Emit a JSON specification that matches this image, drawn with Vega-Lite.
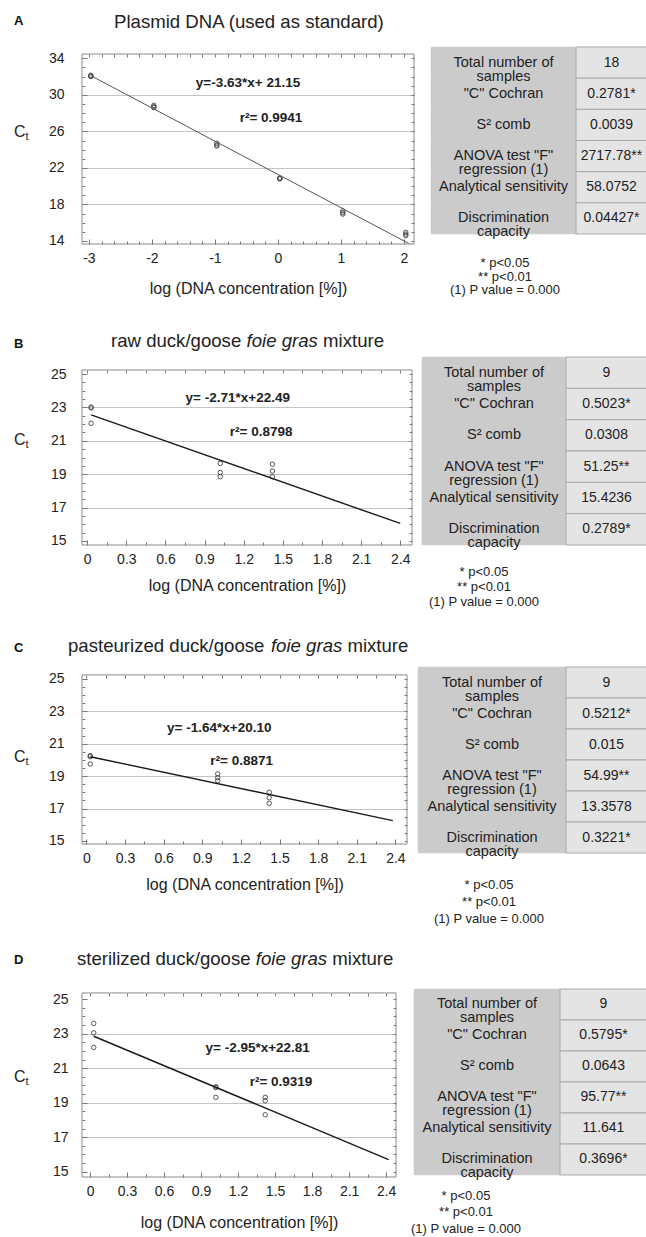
{
  "$schema": "https://vega.github.io/schema/vega-lite/v6.json",
  "background": "white",
  "padding": {"left": 13, "top": 13, "right": 0, "bottom": 8},
  "columns": 2,
  "bounds": "flush",
  "align": "each",
  "spacing": {"row": 0, "column": 0},
  "datasets": {
    "ptsA": [
      {"x": -2.97, "ct": 32.15}, {"x": -2.97, "ct": 32.05}, {"x": -2.97, "ct": 32.0},
      {"x": -1.97, "ct": 28.85}, {"x": -1.97, "ct": 28.7}, {"x": -1.97, "ct": 28.6},
      {"x": -0.97, "ct": 24.7}, {"x": -0.97, "ct": 24.5}, {"x": -0.97, "ct": 24.4},
      {"x": 0.03, "ct": 20.9}, {"x": 0.03, "ct": 20.85}, {"x": 0.03, "ct": 20.8},
      {"x": 1.03, "ct": 17.3}, {"x": 1.03, "ct": 17.1}, {"x": 1.03, "ct": 16.95},
      {"x": 2.03, "ct": 14.95}, {"x": 2.03, "ct": 14.75}, {"x": 2.03, "ct": 14.6}
    ],
    "lineA": [{"x": -2.97, "ct": 32.1}, {"x": 2.08, "ct": 13.72}],
    "ptsB": [
      {"x": 0.03, "ct": 23.02}, {"x": 0.03, "ct": 22.97}, {"x": 0.03, "ct": 22.05},
      {"x": 1.02, "ct": 19.65}, {"x": 1.02, "ct": 19.11}, {"x": 1.02, "ct": 18.85},
      {"x": 1.42, "ct": 19.6}, {"x": 1.42, "ct": 19.19}, {"x": 1.42, "ct": 18.85}
    ],
    "lineB": [{"x": 0.03, "ct": 22.55}, {"x": 2.4, "ct": 16.05}],
    "ptsC": [
      {"x": 0.03, "ct": 20.27}, {"x": 0.03, "ct": 20.2}, {"x": 0.03, "ct": 19.75},
      {"x": 1.02, "ct": 19.14}, {"x": 1.02, "ct": 18.9}, {"x": 1.02, "ct": 18.72},
      {"x": 1.42, "ct": 18.0}, {"x": 1.42, "ct": 17.67}, {"x": 1.42, "ct": 17.33}
    ],
    "lineC": [{"x": 0.03, "ct": 20.2}, {"x": 2.38, "ct": 16.25}],
    "ptsD": [
      {"x": 0.03, "ct": 23.59}, {"x": 0.03, "ct": 23.05}, {"x": 0.03, "ct": 22.2},
      {"x": 1.02, "ct": 19.92}, {"x": 1.02, "ct": 19.88}, {"x": 1.02, "ct": 19.31},
      {"x": 1.42, "ct": 19.31}, {"x": 1.42, "ct": 19.11}, {"x": 1.42, "ct": 18.3}
    ],
    "lineD": [{"x": 0.03, "ct": 22.85}, {"x": 2.42, "ct": 15.7}],
    "tabA": [
      {"i": 1, "label": "Total number of\nsamples", "value": "18"},
      {"i": 2, "label": "\"C\" Cochran", "value": "0.2781*"},
      {"i": 3, "label": "S² comb", "value": "0.0039"},
      {"i": 4, "label": "ANOVA test \"F\"\nregression (1)", "value": "2717.78**"},
      {"i": 5, "label": "Analytical sensitivity", "value": "58.0752"},
      {"i": 6, "label": "Discrimination\ncapacity", "value": "0.04427*"}
    ],
    "tabB": [
      {"i": 1, "label": "Total number of\nsamples", "value": "9"},
      {"i": 2, "label": "\"C\" Cochran", "value": "0.5023*"},
      {"i": 3, "label": "S² comb", "value": "0.0308"},
      {"i": 4, "label": "ANOVA test \"F\"\nregression (1)", "value": "51.25**"},
      {"i": 5, "label": "Analytical sensitivity", "value": "15.4236"},
      {"i": 6, "label": "Discrimination\ncapacity", "value": "0.2789*"}
    ],
    "tabC": [
      {"i": 1, "label": "Total number of\nsamples", "value": "9"},
      {"i": 2, "label": "\"C\" Cochran", "value": "0.5212*"},
      {"i": 3, "label": "S² comb", "value": "0.015"},
      {"i": 4, "label": "ANOVA test \"F\"\nregression (1)", "value": "54.99**"},
      {"i": 5, "label": "Analytical sensitivity", "value": "13.3578"},
      {"i": 6, "label": "Discrimination\ncapacity", "value": "0.3221*"}
    ],
    "tabD": [
      {"i": 1, "label": "Total number of\nsamples", "value": "9"},
      {"i": 2, "label": "\"C\" Cochran", "value": "0.5795*"},
      {"i": 3, "label": "S² comb", "value": "0.0643"},
      {"i": 4, "label": "ANOVA test \"F\"\nregression (1)", "value": "95.77**"},
      {"i": 5, "label": "Analytical sensitivity", "value": "11.641"},
      {"i": 6, "label": "Discrimination\ncapacity", "value": "0.3696*"}
    ],
    "one": [{}]
  },
  "concat": [
    {
      "width": 332, "height": 197,
      "layer": [
        {
          "data": {"name": "ptsA"},
          "mark": {"type": "point", "shape": "circle", "filled": false, "color": "#444", "strokeWidth": 0.9, "size": 20, "opacity": 1},
          "encoding": {
            "x": {"field": "x", "type": "quantitative", "scale": {"domain": [-3.11, 2.16], "nice": false, "zero": false},
                  "axis": {"values": [-3, -2, -1, 0, 1, 2], "labelExpr": "toString(datum.value)", "title": "log (DNA concentration [%])", "grid": false, "tickSize": -5, "labelPadding": 12, "titlePadding": 15, "labelFlush": false}},
            "y": {"field": "ct", "type": "quantitative", "scale": {"domain": [13.67, 35.24], "nice": false, "zero": false},
                  "axis": {"values": [14, 18, 22, 26, 30, 34], "title": null, "grid": true, "gridOpacity": {"condition": {"test": "datum.value == 14 || datum.value == 34", "value": 0}, "value": 1}, "tickSize": -5, "labelPadding": 23}}
          }
        },
        {
          "data": {"name": "lineA"},
          "mark": {"type": "line", "color": "#555", "strokeWidth": 1},
          "encoding": {
            "x": {"field": "x", "type": "quantitative", "axis": {"orient": "top", "offset": -7, "values": [-3, -2.8, -2.6, -2.4, -2.2, -2, -1.8, -1.6, -1.4, -1.2, -1, -0.8, -0.6, -0.4, -0.2, 0, 0.2, 0.4, 0.6, 0.8, 1, 1.2, 1.4, 1.6, 1.8, 2], "labels": false, "title": null, "grid": false, "tickSize": -3}},
            "y": {"field": "ct", "type": "quantitative", "axis": {"orient": "right", "values": [14, 15, 16, 17, 18, 19, 20, 21, 22, 23, 24, 25, 26, 27, 28, 29, 30, 31, 32, 33, 34], "labels": false, "title": null, "grid": false, "tickSize": -3}}
          }
        },
        {
          "data": {"name": "one"},
          "mark": {"type": "rect", "fill": "transparent", "stroke": "#8a8a8a", "strokeWidth": 1},
          "encoding": {
            "x": {"datum": -3.11, "axis": {"orient": "bottom", "values": [-3, -2.8, -2.6, -2.4, -2.2, -2, -1.8, -1.6, -1.4, -1.2, -1, -0.8, -0.6, -0.4, -0.2, 0, 0.2, 0.4, 0.6, 0.8, 1, 1.2, 1.4, 1.6, 1.8, 2], "labels": false, "title": null, "grid": false, "tickSize": -3}},
            "x2": {"datum": 2.16},
            "y": {"datum": 13.67, "axis": {"orient": "left", "values": [14, 15, 16, 17, 18, 19, 20, 21, 22, 23, 24, 25, 26, 27, 28, 29, 30, 31, 32, 33, 34], "labels": false, "title": null, "grid": false, "tickSize": -3}},
            "y2": {"datum": 34.47}
          }
        },
        {"data": {"name": "one"}, "mark": {"type": "text", "text": "A", "align": "left", "baseline": "alphabetic", "fontSize": 13, "fontWeight": "bold", "color": "#111"},
         "encoding": {"x": {"datum": -4.19, "axis": null}, "y": {"datum": 37.65, "axis": null}}},
        {"data": {"name": "one"}, "mark": {"type": "text", "text": "Plasmid DNA (used as standard)", "align": "left", "baseline": "alphabetic", "fontSize": 18.6},
         "encoding": {"x": {"datum": -2.602, "axis": null}, "y": {"datum": 37.32, "axis": null}}},
        {"data": {"name": "one"}, "mark": {"type": "text", "text": "C", "align": "left", "baseline": "middle", "fontSize": 16},
         "encoding": {"x": {"datum": -4.19, "axis": null}, "y": {"datum": 25.97, "axis": null}}},
        {"data": {"name": "one"}, "mark": {"type": "text", "text": "t", "align": "left", "baseline": "middle", "fontSize": 11, "dx": 11.6, "dy": 5},
         "encoding": {"x": {"datum": -4.19, "axis": null}, "y": {"datum": 25.97, "axis": null}}},
        {"data": {"name": "one"}, "mark": {"type": "text", "text": "y=-3.63*x+ 21.15", "align": "center", "baseline": "middle", "fontSize": 13.5, "fontWeight": "bold"},
         "encoding": {"x": {"datum": -0.475, "axis": null}, "y": {"datum": 31.3, "axis": null}}},
        {"data": {"name": "one"}, "mark": {"type": "text", "text": "r²= 0.9941", "align": "center", "baseline": "middle", "fontSize": 13.5, "fontWeight": "bold"},
         "encoding": {"x": {"datum": -0.11, "axis": null}, "y": {"datum": 27.47, "axis": null}}}
      ]
    },
    {
      "width": 233, "height": 310,
      "data": {"name": "tabA"},
      "title": {"text": ["* p<0.05", "** p<0.01", "(1) P value = 0.000"], "orient": "bottom", "frame": "group", "anchor": "start", "align": "center", "baseline": "top", "dx": 91, "offset": -99.8, "fontSize": 13, "fontWeight": "normal", "lineHeight": 13.5, "color": "#222"},
      "layer": [
        {"mark": {"type": "rect", "fill": "#cbcbcb", "stroke": "#cbcbcb", "strokeWidth": 0.5},
         "encoding": {"x": {"datum": 17, "scale": {"domain": [0, 233], "nice": false, "zero": false}, "axis": null}, "x2": {"datum": 162},
                      "y": {"field": "i", "type": "ordinal", "axis": null, "scale": {"domain": [1, 2, 3, 4, 5, 6, 7, 8, 9], "paddingInner": 0, "paddingOuter": 0.4733, "align": 0}}}},
        {"mark": {"type": "rect", "fill": "#e4e4e4", "stroke": "#a9a9a9", "strokeWidth": 1},
         "encoding": {"x": {"datum": 162, "axis": null}, "x2": {"datum": 233}, "y": {"field": "i", "type": "ordinal", "axis": null}}},
        {"mark": {"type": "text", "fontSize": 14.5, "lineBreak": "\n", "lineHeight": 14, "baseline": "middle"},
         "encoding": {"x": {"datum": 89.5, "axis": null}, "y": {"field": "i", "type": "ordinal", "axis": null}, "text": {"field": "label"}}},
        {"mark": {"type": "text", "fontSize": 14, "baseline": "middle"},
         "encoding": {"x": {"datum": 197.5, "axis": null}, "y": {"field": "i", "type": "ordinal", "axis": null}, "text": {"field": "value"}}}
      ]
    },
    {
      "width": 330, "height": 188,
      "layer": [
        {
          "data": {"name": "ptsB"},
          "mark": {"type": "point", "shape": "circle", "filled": false, "color": "#444", "strokeWidth": 0.9, "size": 20, "opacity": 1},
          "encoding": {
            "x": {"field": "x", "type": "quantitative", "scale": {"domain": [-0.04, 2.49], "nice": false, "zero": false},
                  "axis": {"values": [0, 0.3, 0.6, 0.9, 1.2, 1.5, 1.8, 2.1, 2.4], "labelExpr": "toString(datum.value)", "title": "log (DNA concentration [%])", "grid": false, "tickSize": -5, "labelPadding": 12, "titlePadding": 11, "labelFlush": false}},
            "y": {"field": "ct", "type": "quantitative", "scale": {"domain": [14.76, 26.02], "nice": false, "zero": false},
                  "axis": {"values": [15, 17, 19, 21, 23, 25], "title": null, "grid": true, "gridOpacity": {"condition": {"test": "datum.value == 15 || datum.value == 25", "value": 0}, "value": 1}, "tickSize": -5, "labelPadding": 21}}
          }
        },
        {
          "data": {"name": "lineB"},
          "mark": {"type": "line", "color": "#1a1a1a", "strokeWidth": 1.4},
          "encoding": {
            "x": {"field": "x", "type": "quantitative", "axis": {"orient": "top", "offset": -13, "values": [0, 0.15, 0.3, 0.45, 0.6, 0.75, 0.9, 1.05, 1.2, 1.35, 1.5, 1.65, 1.8, 1.95, 2.1, 2.25, 2.4], "labels": false, "title": null, "grid": false, "tickSize": -3}},
            "y": {"field": "ct", "type": "quantitative", "axis": {"orient": "right", "values": [15, 15.5, 16, 16.5, 17, 17.5, 18, 18.5, 19, 19.5, 20, 20.5, 21, 21.5, 22, 22.5, 23, 23.5, 24, 24.5, 25], "labels": false, "title": null, "grid": false, "tickSize": -3}}
          }
        },
        {
          "data": {"name": "one"},
          "mark": {"type": "rect", "fill": "transparent", "stroke": "#8a8a8a", "strokeWidth": 1},
          "encoding": {
            "x": {"datum": -0.04, "axis": {"orient": "bottom", "values": [0, 0.15, 0.3, 0.45, 0.6, 0.75, 0.9, 1.05, 1.2, 1.35, 1.5, 1.65, 1.8, 1.95, 2.1, 2.25, 2.4], "labels": false, "title": null, "grid": false, "tickSize": -3}},
            "x2": {"datum": 2.49},
            "y": {"datum": 14.76, "axis": {"orient": "left", "values": [15, 15.5, 16, 16.5, 17, 17.5, 18, 18.5, 19, 19.5, 20, 20.5, 21, 21.5, 22, 22.5, 23, 23.5, 24, 24.5, 25], "labels": false, "title": null, "grid": false, "tickSize": -3}},
            "y2": {"datum": 25.24}
          }
        },
        {"data": {"name": "one"}, "mark": {"type": "text", "text": "B", "align": "left", "baseline": "alphabetic", "fontSize": 13, "fontWeight": "bold", "color": "#111"},
         "encoding": {"x": {"datum": -0.5615, "axis": null}, "y": {"datum": 26.56, "axis": null}}},
        {"data": {"name": "one"}, "mark": {"type": "text", "text": "raw duck/goose", "align": "left", "baseline": "alphabetic", "fontSize": 18.6},
         "encoding": {"x": {"datum": 0.1824, "axis": null}, "y": {"datum": 26.62, "axis": null}}},
        {"data": {"name": "one"}, "mark": {"type": "text", "text": "foie gras", "align": "left", "baseline": "alphabetic", "fontSize": 18.6, "fontStyle": "italic"},
         "encoding": {"x": {"datum": 1.2215, "axis": null}, "y": {"datum": 26.62, "axis": null}}},
        {"data": {"name": "one"}, "mark": {"type": "text", "text": "mixture", "align": "left", "baseline": "alphabetic", "fontSize": 18.6},
         "encoding": {"x": {"datum": 1.808, "axis": null}, "y": {"datum": 26.62, "axis": null}}},
        {"data": {"name": "one"}, "mark": {"type": "text", "text": "C", "align": "left", "baseline": "middle", "fontSize": 16},
         "encoding": {"x": {"datum": -0.5615, "axis": null}, "y": {"datum": 21.05, "axis": null}}},
        {"data": {"name": "one"}, "mark": {"type": "text", "text": "t", "align": "left", "baseline": "middle", "fontSize": 11, "dx": 11.6, "dy": 5},
         "encoding": {"x": {"datum": -0.5615, "axis": null}, "y": {"datum": 21.05, "axis": null}}},
        {"data": {"name": "one"}, "mark": {"type": "text", "text": "y= -2.71*x+22.49", "align": "center", "baseline": "middle", "fontSize": 13.5, "fontWeight": "bold"},
         "encoding": {"x": {"datum": 1.154, "axis": null}, "y": {"datum": 23.55, "axis": null}}},
        {"data": {"name": "one"}, "mark": {"type": "text", "text": "r²= 0.8798", "align": "center", "baseline": "middle", "fontSize": 13.5, "fontWeight": "bold"},
         "encoding": {"x": {"datum": 1.333, "axis": null}, "y": {"datum": 21.51, "axis": null}}}
      ]
    },
    {
      "width": 233, "height": 310,
      "data": {"name": "tabB"},
      "title": {"text": ["* p<0.05", "** p<0.01", "(1) P value = 0.000"], "orient": "bottom", "frame": "group", "anchor": "start", "align": "center", "baseline": "top", "dx": 70, "offset": -100.8, "fontSize": 13, "fontWeight": "normal", "lineHeight": 15, "color": "#222"},
      "layer": [
        {"mark": {"type": "rect", "fill": "#cbcbcb", "stroke": "#cbcbcb", "strokeWidth": 0.5},
         "encoding": {"x": {"datum": 8, "scale": {"domain": [0, 233], "nice": false, "zero": false}, "axis": null}, "x2": {"datum": 152},
                      "y": {"field": "i", "type": "ordinal", "axis": null, "scale": {"domain": [1, 2, 3, 4, 5, 6, 7, 8, 9], "paddingInner": 0, "paddingOuter": 0.4468, "align": 0}}}},
        {"mark": {"type": "rect", "fill": "#e4e4e4", "stroke": "#a9a9a9", "strokeWidth": 1},
         "encoding": {"x": {"datum": 152, "axis": null}, "x2": {"datum": 233}, "y": {"field": "i", "type": "ordinal", "axis": null}}},
        {"mark": {"type": "text", "fontSize": 14.5, "lineBreak": "\n", "lineHeight": 14, "baseline": "middle"},
         "encoding": {"x": {"datum": 80, "axis": null}, "y": {"field": "i", "type": "ordinal", "axis": null}, "text": {"field": "label"}}},
        {"mark": {"type": "text", "fontSize": 14, "baseline": "middle"},
         "encoding": {"x": {"datum": 192.5, "axis": null}, "y": {"field": "i", "type": "ordinal", "axis": null}, "text": {"field": "value"}}}
      ]
    },
    {
      "width": 325, "height": 177,
      "layer": [
        {
          "data": {"name": "ptsC"},
          "mark": {"type": "point", "shape": "circle", "filled": false, "color": "#444", "strokeWidth": 0.9, "size": 20, "opacity": 1},
          "encoding": {
            "x": {"field": "x", "type": "quantitative", "scale": {"domain": [-0.034, 2.49], "nice": false, "zero": false},
                  "axis": {"values": [0, 0.3, 0.6, 0.9, 1.2, 1.5, 1.8, 2.1, 2.4], "labelExpr": "toString(datum.value)", "title": "log (DNA concentration [%])", "grid": false, "tickSize": -5, "labelPadding": 12, "titlePadding": 11, "labelFlush": false}},
            "y": {"field": "ct", "type": "quantitative", "scale": {"domain": [14.81, 25.74], "nice": false, "zero": false},
                  "axis": {"values": [15, 17, 19, 21, 23, 25], "title": null, "grid": true, "gridOpacity": {"condition": {"test": "datum.value == 15 || datum.value == 25", "value": 0}, "value": 1}, "tickSize": -5, "labelPadding": 23}}
          }
        },
        {
          "data": {"name": "lineC"},
          "mark": {"type": "line", "color": "#1a1a1a", "strokeWidth": 1.4},
          "encoding": {
            "x": {"field": "x", "type": "quantitative", "axis": {"orient": "top", "offset": -8, "values": [0, 0.15, 0.3, 0.45, 0.6, 0.75, 0.9, 1.05, 1.2, 1.35, 1.5, 1.65, 1.8, 1.95, 2.1, 2.25, 2.4], "labels": false, "title": null, "grid": false, "tickSize": -3}},
            "y": {"field": "ct", "type": "quantitative", "axis": {"orient": "right", "values": [15, 15.5, 16, 16.5, 17, 17.5, 18, 18.5, 19, 19.5, 20, 20.5, 21, 21.5, 22, 22.5, 23, 23.5, 24, 24.5, 25], "labels": false, "title": null, "grid": false, "tickSize": -3}}
          }
        },
        {
          "data": {"name": "one"},
          "mark": {"type": "rect", "fill": "transparent", "stroke": "#8a8a8a", "strokeWidth": 1},
          "encoding": {
            "x": {"datum": -0.034, "axis": {"orient": "bottom", "values": [0, 0.15, 0.3, 0.45, 0.6, 0.75, 0.9, 1.05, 1.2, 1.35, 1.5, 1.65, 1.8, 1.95, 2.1, 2.25, 2.4], "labels": false, "title": null, "grid": false, "tickSize": -3}},
            "x2": {"datum": 2.49},
            "y": {"datum": 14.81, "axis": {"orient": "left", "values": [15, 15.5, 16, 16.5, 17, 17.5, 18, 18.5, 19, 19.5, 20, 20.5, 21, 21.5, 22, 22.5, 23, 23.5, 24, 24.5, 25], "labels": false, "title": null, "grid": false, "tickSize": -3}},
            "y2": {"datum": 25.25}
          }
        },
        {"data": {"name": "one"}, "mark": {"type": "text", "text": "C", "align": "left", "baseline": "alphabetic", "fontSize": 13, "fontWeight": "bold", "color": "#111"},
         "encoding": {"x": {"datum": -0.562, "axis": null}, "y": {"datum": 26.67, "axis": null}}},
        {"data": {"name": "one"}, "mark": {"type": "text", "text": "pasteurized duck/goose", "align": "left", "baseline": "alphabetic", "fontSize": 18.6},
         "encoding": {"x": {"datum": -0.1427, "axis": null}, "y": {"datum": 26.65, "axis": null}}},
        {"data": {"name": "one"}, "mark": {"type": "text", "text": "foie gras", "align": "left", "baseline": "alphabetic", "fontSize": 18.6, "fontStyle": "italic"},
         "encoding": {"x": {"datum": 1.4334, "axis": null}, "y": {"datum": 26.65, "axis": null}}},
        {"data": {"name": "one"}, "mark": {"type": "text", "text": "mixture", "align": "left", "baseline": "alphabetic", "fontSize": 18.6},
         "encoding": {"x": {"datum": 2.0274, "axis": null}, "y": {"datum": 26.65, "axis": null}}},
        {"data": {"name": "one"}, "mark": {"type": "text", "text": "C", "align": "left", "baseline": "middle", "fontSize": 16},
         "encoding": {"x": {"datum": -0.562, "axis": null}, "y": {"datum": 20.2, "axis": null}}},
        {"data": {"name": "one"}, "mark": {"type": "text", "text": "t", "align": "left", "baseline": "middle", "fontSize": 11, "dx": 11.6, "dy": 5},
         "encoding": {"x": {"datum": -0.562, "axis": null}, "y": {"datum": 20.2, "axis": null}}},
        {"data": {"name": "one"}, "mark": {"type": "text", "text": "y= -1.64*x+20.10", "align": "center", "baseline": "middle", "fontSize": 13.5, "fontWeight": "bold"},
         "encoding": {"x": {"datum": 1.032, "axis": null}, "y": {"datum": 21.99, "axis": null}}},
        {"data": {"name": "one"}, "mark": {"type": "text", "text": "r²= 0.8871", "align": "center", "baseline": "middle", "fontSize": 13.5, "fontWeight": "bold"},
         "encoding": {"x": {"datum": 1.206, "axis": null}, "y": {"datum": 19.93, "axis": null}}}
      ]
    },
    {
      "width": 233, "height": 322,
      "data": {"name": "tabC"},
      "title": {"text": ["* p<0.05", "** p<0.01", "(1) P value = 0.000"], "orient": "bottom", "frame": "group", "anchor": "start", "align": "center", "baseline": "top", "dx": 75, "offset": -109.8, "fontSize": 13, "fontWeight": "normal", "lineHeight": 17, "color": "#222"},
      "layer": [
        {"mark": {"type": "rect", "fill": "#cbcbcb", "stroke": "#cbcbcb", "strokeWidth": 0.5},
         "encoding": {"x": {"datum": 4, "scale": {"domain": [0, 233], "nice": false, "zero": false}, "axis": null}, "x2": {"datum": 152},
                      "y": {"field": "i", "type": "ordinal", "axis": null, "scale": {"domain": [1, 2, 3, 4, 5, 6, 7, 8, 9, 10], "paddingInner": 0, "paddingOuter": 0.1935, "align": 0}}}},
        {"mark": {"type": "rect", "fill": "#e4e4e4", "stroke": "#a9a9a9", "strokeWidth": 1},
         "encoding": {"x": {"datum": 152, "axis": null}, "x2": {"datum": 233}, "y": {"field": "i", "type": "ordinal", "axis": null}}},
        {"mark": {"type": "text", "fontSize": 14.5, "lineBreak": "\n", "lineHeight": 14, "baseline": "middle"},
         "encoding": {"x": {"datum": 78, "axis": null}, "y": {"field": "i", "type": "ordinal", "axis": null}, "text": {"field": "label"}}},
        {"mark": {"type": "text", "fontSize": 14, "baseline": "middle"},
         "encoding": {"x": {"datum": 192.5, "axis": null}, "y": {"field": "i", "type": "ordinal", "axis": null}, "text": {"field": "value"}}}
      ]
    },
    {
      "width": 314, "height": 188,
      "layer": [
        {
          "data": {"name": "ptsD"},
          "mark": {"type": "point", "shape": "circle", "filled": false, "color": "#444", "strokeWidth": 0.9, "size": 20, "opacity": 1},
          "encoding": {
            "x": {"field": "x", "type": "quantitative", "scale": {"domain": [-0.065, 2.48], "nice": false, "zero": false},
                  "axis": {"values": [0, 0.3, 0.6, 0.9, 1.2, 1.5, 1.8, 2.1, 2.4], "labelExpr": "toString(datum.value)", "title": "log (DNA concentration [%])", "grid": false, "tickSize": -5, "labelPadding": 12, "titlePadding": 16, "labelFlush": false}},
            "y": {"field": "ct", "type": "quantitative", "scale": {"domain": [14.69, 25.59], "nice": false, "zero": false},
                  "axis": {"values": [15, 17, 19, 21, 23, 25], "title": null, "grid": true, "gridOpacity": {"condition": {"test": "datum.value == 15 || datum.value == 25", "value": 0}, "value": 1}, "tickSize": -5, "labelPadding": 19}}
          }
        },
        {
          "data": {"name": "lineD"},
          "mark": {"type": "line", "color": "#1a1a1a", "strokeWidth": 1.4},
          "encoding": {
            "x": {"field": "x", "type": "quantitative", "axis": {"orient": "top", "offset": -4, "values": [0, 0.15, 0.3, 0.45, 0.6, 0.75, 0.9, 1.05, 1.2, 1.35, 1.5, 1.65, 1.8, 1.95, 2.1, 2.25, 2.4], "labels": false, "title": null, "grid": false, "tickSize": -3}},
            "y": {"field": "ct", "type": "quantitative", "axis": {"orient": "right", "values": [15, 15.5, 16, 16.5, 17, 17.5, 18, 18.5, 19, 19.5, 20, 20.5, 21, 21.5, 22, 22.5, 23, 23.5, 24, 24.5, 25], "labels": false, "title": null, "grid": false, "tickSize": -3}}
          }
        },
        {
          "data": {"name": "one"},
          "mark": {"type": "rect", "fill": "transparent", "stroke": "#8a8a8a", "strokeWidth": 1},
          "encoding": {
            "x": {"datum": -0.065, "axis": {"orient": "bottom", "values": [0, 0.15, 0.3, 0.45, 0.6, 0.75, 0.9, 1.05, 1.2, 1.35, 1.5, 1.65, 1.8, 1.95, 2.1, 2.25, 2.4], "labels": false, "title": null, "grid": false, "tickSize": -3}},
            "x2": {"datum": 2.48},
            "y": {"datum": 14.69, "axis": {"orient": "left", "values": [15, 15.5, 16, 16.5, 17, 17.5, 18, 18.5, 19, 19.5, 20, 20.5, 21, 21.5, 22, 22.5, 23, 23.5, 24, 24.5, 25], "labels": false, "title": null, "grid": false, "tickSize": -3}},
            "y2": {"datum": 25.36}
          }
        },
        {"data": {"name": "one"}, "mark": {"type": "text", "text": "D", "align": "left", "baseline": "alphabetic", "fontSize": 13, "fontWeight": "bold", "color": "#111"},
         "encoding": {"x": {"datum": -0.616, "axis": null}, "y": {"datum": 27.05, "axis": null}}},
        {"data": {"name": "one"}, "mark": {"type": "text", "text": "sterilized duck/goose", "align": "left", "baseline": "alphabetic", "fontSize": 18.6},
         "encoding": {"x": {"datum": -0.106, "axis": null}, "y": {"datum": 26.98, "axis": null}}},
        {"data": {"name": "one"}, "mark": {"type": "text", "text": "foie gras", "align": "left", "baseline": "alphabetic", "fontSize": 18.6, "fontStyle": "italic"},
         "encoding": {"x": {"datum": 1.344, "axis": null}, "y": {"datum": 26.98, "axis": null}}},
        {"data": {"name": "one"}, "mark": {"type": "text", "text": "mixture", "align": "left", "baseline": "alphabetic", "fontSize": 18.6},
         "encoding": {"x": {"datum": 1.964, "axis": null}, "y": {"datum": 26.98, "axis": null}}},
        {"data": {"name": "one"}, "mark": {"type": "text", "text": "C", "align": "left", "baseline": "middle", "fontSize": 16},
         "encoding": {"x": {"datum": -0.616, "axis": null}, "y": {"datum": 20.51, "axis": null}}},
        {"data": {"name": "one"}, "mark": {"type": "text", "text": "t", "align": "left", "baseline": "middle", "fontSize": 11, "dx": 11.6, "dy": 5},
         "encoding": {"x": {"datum": -0.616, "axis": null}, "y": {"datum": 20.51, "axis": null}}},
        {"data": {"name": "one"}, "mark": {"type": "text", "text": "y= -2.95*x+22.81", "align": "center", "baseline": "middle", "fontSize": 13.5, "fontWeight": "bold"},
         "encoding": {"x": {"datum": 1.359, "axis": null}, "y": {"datum": 22.15, "axis": null}}},
        {"data": {"name": "one"}, "mark": {"type": "text", "text": "r²= 0.9319", "align": "center", "baseline": "middle", "fontSize": 13.5, "fontWeight": "bold"},
         "encoding": {"x": {"datum": 1.548, "axis": null}, "y": {"datum": 20.18, "axis": null}}}
      ]
    },
    {
      "width": 233, "height": 188,
      "data": {"name": "tabD"},
      "title": {"text": ["* p<0.05", "** p<0.01", "(1) P value = 0.000"], "orient": "bottom", "frame": "group", "anchor": "start", "align": "center", "baseline": "top", "dx": 52, "offset": 10, "fontSize": 13, "fontWeight": "normal", "lineHeight": 16.5, "color": "#222"},
      "layer": [
        {"mark": {"type": "rect", "fill": "#cbcbcb", "stroke": "#cbcbcb", "strokeWidth": 0.5},
         "encoding": {"x": {"datum": 0, "scale": {"domain": [0, 233], "nice": false, "zero": false}, "axis": null}, "x2": {"datum": 146},
                      "y": {"field": "i", "type": "ordinal", "axis": null, "scale": {"paddingInner": 0, "paddingOuter": 0.0323, "align": 0}}}},
        {"mark": {"type": "rect", "fill": "#e4e4e4", "stroke": "#a9a9a9", "strokeWidth": 1},
         "encoding": {"x": {"datum": 146, "axis": null}, "x2": {"datum": 233}, "y": {"field": "i", "type": "ordinal", "axis": null}}},
        {"mark": {"type": "text", "fontSize": 14.5, "lineBreak": "\n", "lineHeight": 14, "baseline": "middle"},
         "encoding": {"x": {"datum": 73, "axis": null}, "y": {"field": "i", "type": "ordinal", "axis": null}, "text": {"field": "label"}}},
        {"mark": {"type": "text", "fontSize": 14, "baseline": "middle"},
         "encoding": {"x": {"datum": 189.5, "axis": null}, "y": {"field": "i", "type": "ordinal", "axis": null}, "text": {"field": "value"}}}
      ]
    }
  ],
  "config": {
    "font": "Liberation Sans",
    "view": {"stroke": null},
    "axis": {"labelFontSize": 14, "labelColor": "#222", "tickColor": "#777", "tickWidth": 1, "domain": false, "titleFontSize": 16, "titleFontWeight": "normal", "titleColor": "#222", "gridColor": "#c4c4c4", "gridWidth": 1},
    "text": {"color": "#222"},
    "title": {"fontWeight": "normal", "color": "#222"}
  }
}
